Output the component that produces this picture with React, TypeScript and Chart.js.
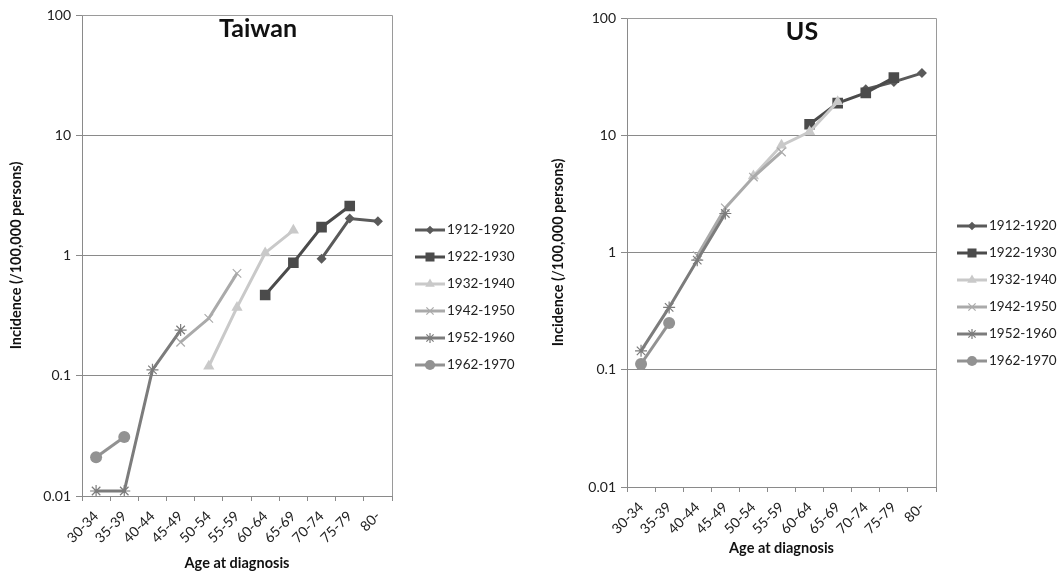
import React, { useEffect, useRef } from 'react';
import { Chart, registerables } from 'chart.js';
import { drawPoint } from 'chart.js/helpers';
Chart.register(...registerables);

const categories = ['30-34', '35-39', '40-44', '45-49', '50-54', '55-59', '60-64', '65-69', '70-74', '75-79', '80-'];
const cohorts = ['1912-1920', '1922-1930', '1932-1940', '1942-1950', '1952-1960', '1962-1970'];
const yTicks = [0.01, 0.1, 1, 10, 100];

const n = null;
// Taiwan
const tw1912 = [n, n, n, n, n, n, n, n, 0.94, 2.03, 1.93];
const tw1922 = [n, n, n, n, n, n, 0.47, 0.87, 1.72, 2.58, n];
const tw1932 = [n, n, n, n, 0.12, 0.37, 1.05, 1.62, n, n, n];
const tw1942 = [n, n, n, 0.19, 0.3, 0.71, n, n, n, n, n];
const tw1952 = [0.011, 0.011, 0.112, 0.24, n, n, n, n, n, n, n];
const tw1962 = [0.021, 0.031, n, n, n, n, n, n, n, n, n];
// US
const us1912 = [n, n, n, n, n, n, n, n, 24.7, 28.5, 33.9];
const us1922 = [n, n, n, n, n, n, 12.4, 18.8, 23, 31, n];
const us1932 = [n, n, n, n, 4.5, 8.2, 10.7, 19.3, n, n, n];
const us1942 = [n, n, 0.94, 2.4, 4.4, 7.2, n, n, n, n, n];
const us1952 = [0.145, 0.34, 0.86, 2.15, n, n, n, n, n, n, n];
const us1962 = [0.112, 0.25, n, n, n, n, n, n, n, n, n];

const colors = ['#5a5a5a', '#4b4b4b', '#c9c9c9', '#aaaaaa', '#7c7c7c', '#929292'];
const pointStyles = ['rectRot', 'rect', 'triangle', 'crossRot', 'star', 'circle'];
const pointRadii = [5, 7.5, 6.5, 6, 6, 6];

const FONT = 'Lato, "Open Sans", sans-serif';

const decorPlugin = {
  id: 'decor',
  afterDraw(chart: any, _args: any, opts: any) {
    const ctx = chart.ctx;
    const ca = chart.chartArea;
    ctx.save();
    // plot border
    ctx.strokeStyle = '#9a9a9a';
    ctx.lineWidth = 1;
    ctx.beginPath();
    ctx.moveTo(ca.left, ca.top + 0.5);
    ctx.lineTo(ca.right + 0.5, ca.top + 0.5);
    ctx.lineTo(ca.right + 0.5, ca.bottom);
    ctx.stroke();
    // title
    ctx.fillStyle = '#111';
    ctx.font = `bold 25px ${FONT}`;
    ctx.textAlign = 'center';
    ctx.textBaseline = 'middle';
    ctx.fillText(opts.title, opts.titleX, opts.titleY);
    // legend
    chart.data.datasets.forEach((ds: any, i: number) => {
      const y = opts.legendY + i * opts.legendGap;
      const x0 = opts.legendX;
      ctx.strokeStyle = ds.borderColor;
      ctx.lineWidth = 3;
      ctx.beginPath();
      ctx.moveTo(x0, y);
      ctx.lineTo(x0 + 30, y);
      ctx.stroke();
      ctx.fillStyle = ds.pointBackgroundColor;
      ctx.strokeStyle = ds.pointBorderColor;
      ctx.lineWidth = ds.pointBorderWidth;
      drawPoint(ctx, { pointStyle: ds.pointStyle, radius: ds.pointRadius * 0.85, rotation: 0, borderWidth: ds.pointBorderWidth }, x0 + 15, y);
      ctx.fillStyle = '#222';
      ctx.font = `13.5px ${FONT}`;
      ctx.textAlign = 'left';
      ctx.textBaseline = 'middle';
      ctx.fillText(ds.label, x0 + 32, y);
    });
    ctx.restore();
  },
};

type Cfg = {
  left: number; width: number; yAxisW: number; plotTop: number; padRight: number;
  xAxisH: number; padBottom: number; title: string; titleX: number; titleY: number;
  legendX: number; legendY: number; legendGap: number; yTitlePad: number; series: (number | null)[][];
};

function CohortChart({ cfg }: { cfg: Cfg }) {
  const ref = useRef<HTMLCanvasElement>(null);
  useEffect(() => {
    const datasets = cohorts.map((label, i) => {
      const stroked = pointStyles[i] === 'crossRot' || pointStyles[i] === 'star';
      return {
        label,
        data: cfg.series[i],
        borderColor: colors[i],
        backgroundColor: colors[i],
        borderWidth: 3,
        pointStyle: pointStyles[i],
        pointRadius: pointRadii[i],
        pointBackgroundColor: colors[i],
        pointBorderColor: colors[i],
        pointBorderWidth: stroked ? 1.2 : 0,
        spanGaps: false,
        tension: 0,
        order: -i,
      };
    });
    const chart = new Chart(ref.current as HTMLCanvasElement, {
      type: 'line',
      data: { labels: categories, datasets: datasets as any },
      plugins: [decorPlugin],
      options: {
        animation: false,
        responsive: false,
        devicePixelRatio: 1,
        layout: { padding: { left: 0, top: cfg.plotTop, right: cfg.padRight, bottom: cfg.padBottom } },
        plugins: {
          legend: { display: false },
          tooltip: { enabled: false },
          decor: {
            title: cfg.title, titleX: cfg.titleX, titleY: cfg.titleY,
            legendX: cfg.legendX, legendY: cfg.legendY, legendGap: cfg.legendGap,
          },
        } as any,
        scales: {
          x: {
            type: 'category',
            offset: true,
            grid: { offset: true, drawOnChartArea: false, drawTicks: true, tickLength: 5, color: '#8a8a8a' },
            border: { color: '#8a8a8a', width: 1 },
            ticks: { minRotation: 45, maxRotation: 45, autoSkip: false, color: '#222', font: { family: FONT, size: 14 }, padding: 7 },
            title: { display: true, text: 'Age at diagnosis', color: '#111', font: { family: FONT, size: 14.5, weight: 'bold' }, padding: 4 },
            afterFit: (s: any) => { s.height = cfg.xAxisH; },
          },
          y: {
            type: 'logarithmic',
            min: 0.01,
            max: 100,
            afterBuildTicks: (s: any) => { s.ticks = yTicks.map((v) => ({ value: v })); },
            ticks: { color: '#222', font: { family: FONT, size: 14 }, padding: 5, callback: (v: any) => String(v) },
            grid: { color: '#8a8a8a', lineWidth: 1, tickLength: 6, drawTicks: true },
            border: { color: '#8a8a8a', width: 1 },
            title: { display: true, text: 'Incidence (/100,000 persons)', color: '#111', font: { family: FONT, size: 14.5, weight: 'bold' }, padding: { top: cfg.yTitlePad, bottom: 0 } },
            afterFit: (s: any) => { s.width = cfg.yAxisW; },
          },
        } as any,
      },
    });
    return () => chart.destroy();
  }, []);
  return (
    <div style={{ position: 'absolute', left: cfg.left, top: 0, width: cfg.width, height: 576 }}>
      <canvas ref={ref} width={cfg.width} height={576} style={{ width: cfg.width, height: 576, display: 'block' }} />
    </div>
  );
}

const taiwanCfg: Cfg = {
  left: 0, width: 540, yAxisW: 82, plotTop: 15, padRight: 148, xAxisH: 80, padBottom: 0,
  title: 'Taiwan', titleX: 258, titleY: 29, legendX: 415, legendY: 230, legendGap: 27, yTitlePad: 8,
  series: [tw1912, tw1922, tw1932, tw1942, tw1952, tw1962],
};
const usCfg: Cfg = {
  left: 545, width: 516, yAxisW: 82, plotTop: 18, padRight: 125, xAxisH: 74, padBottom: 15,
  title: 'US', titleX: 257, titleY: 32, legendX: 412, legendY: 226, legendGap: 27, yTitlePad: 5,
  series: [us1912, us1922, us1932, us1942, us1952, us1962],
};

export default function App() {
  return (
    <div style={{ position: 'absolute', left: 0, top: 0, width: 1061, height: 576, background: '#fff', overflow: 'hidden' }}>
      <CohortChart cfg={taiwanCfg} />
      <CohortChart cfg={usCfg} />
    </div>
  );
}
